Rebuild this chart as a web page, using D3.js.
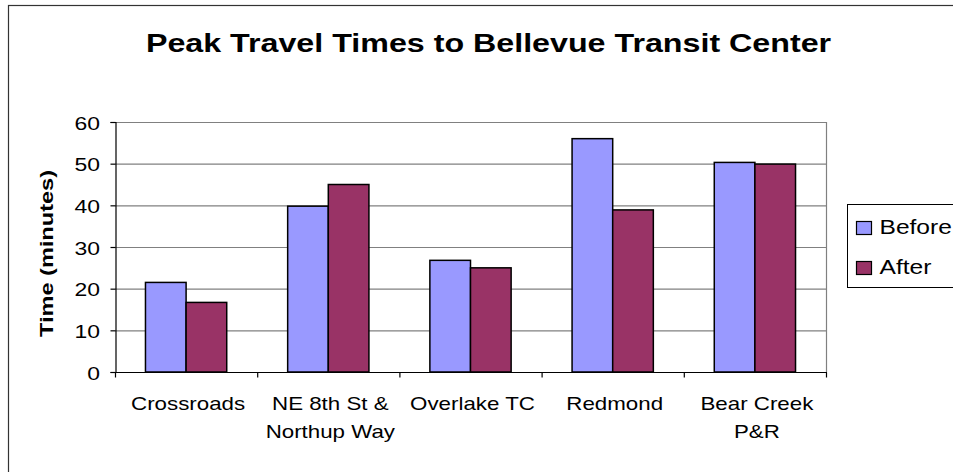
<!DOCTYPE html>
<html>
<head>
<meta charset="utf-8">
<script src="https://cdn.jsdelivr.net/npm/d3@7"></script>
<style>
  html, body { margin: 0; padding: 0; background: #fff; overflow: hidden; }
  svg { display: block; font-family: "Liberation Sans", Arial, sans-serif; }
</style>
</head>
<body>
<svg id="chart" width="953" height="472"></svg>
<script>
// Travel times (minutes) per stop, before and after the service change
const categories = [["Crossroads"], ["NE 8th St &", "Northup Way"], ["Overlake TC"], ["Redmond"], ["Bear Creek", "P&R"]];
const before = [21.5, 39.8, 26.8, 56.0, 50.3];
const after = [16.7, 45.0, 25.0, 38.9, 49.9];
const seriesNames = ["Before", "After"];
const seriesColors = ["#9999FF", "#993366"];
const yTicks = [0, 10, 20, 30, 40, 50, 60];

const svg = d3.select("#chart");
const plot = { left: 115, right: 826, top: 122, bottom: 372 };
const SX = 1.24; // horizontal widening of the chart typeface

// Place a text at (x, y) and widen its glyphs along the baseline
function placeWide(sel, x, y, extra = "", sx = SX) {
  return sel.attr("x", 0).attr("y", 0)
    .attr("transform", `translate(${x},${y}) ${extra} scale(${sx},1)`);
}

// Outer chart frame
svg.append("rect")
  .attr("x", 8.5).attr("y", 5.5)
  .attr("width", 960).attr("height", 480)
  .attr("fill", "#fff").attr("stroke", "#333").attr("stroke-width", 1.2);

// Title
placeWide(svg.append("text"), 488.5, 52)
  .attr("text-anchor", "middle")
  .attr("font-size", 26).attr("font-weight", "bold")
  .text("Peak Travel Times to Bellevue Transit Center");

const x0 = d3.scaleBand()
  .domain(d3.range(categories.length))
  .range([plot.left, plot.right])
  .paddingInner(0).paddingOuter(0);

const barW = x0.bandwidth() / 3.5;
const x1 = d3.scaleBand()
  .domain(seriesNames)
  .range([0, barW * 2]);

const y = d3.scaleLinear().domain([0, 60]).range([plot.bottom, plot.top]);

// Gridlines
svg.append("g")
  .selectAll("line")
  .data(yTicks.filter(t => t > 0))
  .join("line")
  .attr("x1", plot.left).attr("x2", plot.right)
  .attr("y1", d => y(d) + 0.5).attr("y2", d => y(d) + 0.5)
  .attr("stroke", "#808080").attr("stroke-width", 1.2);

// Plot-area right border
svg.append("line")
  .attr("x1", plot.right + 0.5).attr("x2", plot.right + 0.5)
  .attr("y1", plot.top).attr("y2", plot.bottom)
  .attr("stroke", "#808080").attr("stroke-width", 1.2);

// Bars
const rows = categories.map((c, i) => ({ i, values: [before[i], after[i]] }));
const groups = svg.append("g")
  .selectAll("g")
  .data(rows)
  .join("g")
  .attr("transform", d => `translate(${x0(d.i) + (x0.bandwidth() - barW * 2) / 2},0)`);

groups.selectAll("rect")
  .data(d => d.values.map((v, k) => ({ v, k })))
  .join("rect")
  .attr("x", d => x1(seriesNames[d.k]))
  .attr("y", d => y(d.v))
  .attr("width", x1.bandwidth())
  .attr("height", d => y(0) - y(d.v))
  .attr("fill", d => seriesColors[d.k])
  .attr("stroke", "#000").attr("stroke-width", 1.5);

// Y axis
const yAxis = d3.axisLeft(y).tickValues(yTicks).tickSize(5);
const yg = svg.append("g")
  .attr("transform", `translate(${plot.left + 0.5},0)`)
  .call(yAxis);
yg.select(".domain").attr("stroke", "#000").attr("stroke-width", 1.2);
yg.selectAll(".tick line").attr("stroke", "#000").attr("stroke-width", 1.2);
yg.selectAll(".tick text")
  .attr("font-size", 18.5).attr("fill", "#000")
  .attr("font-family", "Liberation Sans, Arial, sans-serif")
  .attr("dy", null)
  .attr("dominant-baseline", "central")
  .each(function () { placeWide(d3.select(this), -15.5, 0.5); });

// X axis: ticks at category boundaries, labels centered in each band
const xg = svg.append("g").attr("transform", `translate(0,${plot.bottom + 0.5})`);
xg.append("line")
  .attr("x1", plot.left).attr("x2", plot.right + 1)
  .attr("stroke", "#000").attr("stroke-width", 1.2);
const bounds = d3.range(categories.length + 1).map(i => plot.left + i * x0.bandwidth());
xg.selectAll("line.tick")
  .data(bounds)
  .join("line")
  .attr("class", "tick")
  .attr("x1", d => d + 0.5).attr("x2", d => d + 0.5)
  .attr("y1", 0).attr("y2", 5)
  .attr("stroke", "#000").attr("stroke-width", 1.2);

const labels = xg.selectAll("text")
  .data(categories)
  .join("text")
  .attr("text-anchor", "middle")
  .attr("font-size", 18)
  .attr("transform", (d, i) => `translate(${x0(i) + x0.bandwidth() / 2 + 2},0) scale(${SX},1)`);
labels.selectAll("tspan")
  .data(d => d)
  .join("tspan")
  .attr("x", 0)
  .attr("y", (d, k) => 38 + k * 27.5)
  .text(d => d);

// Y axis title
placeWide(svg.append("text"), 53, 253.5, "rotate(-90)")
  .attr("text-anchor", "middle")
  .attr("font-size", 19).attr("font-weight", "bold")
  .text("Time (minutes)");

// Legend
const legend = svg.append("g").attr("transform", "translate(847.5,204.5)");
legend.append("rect")
  .attr("width", 130).attr("height", 83)
  .attr("fill", "#fff").attr("stroke", "#000").attr("stroke-width", 1);
const items = legend.selectAll("g")
  .data(seriesNames)
  .join("g")
  .attr("transform", (d, i) => `translate(9,${17 + i * 40})`);
items.append("rect")
  .attr("width", 15).attr("height", 13)
  .attr("fill", (d, i) => seriesColors[i])
  .attr("stroke", "#000").attr("stroke-width", 1.2);
items.each(function () {
  placeWide(d3.select(this).append("text"), 23, 12.5, "", 1.17)
    .attr("font-size", 21)
    .text(d => d);
});
</script>
</body>
</html>
